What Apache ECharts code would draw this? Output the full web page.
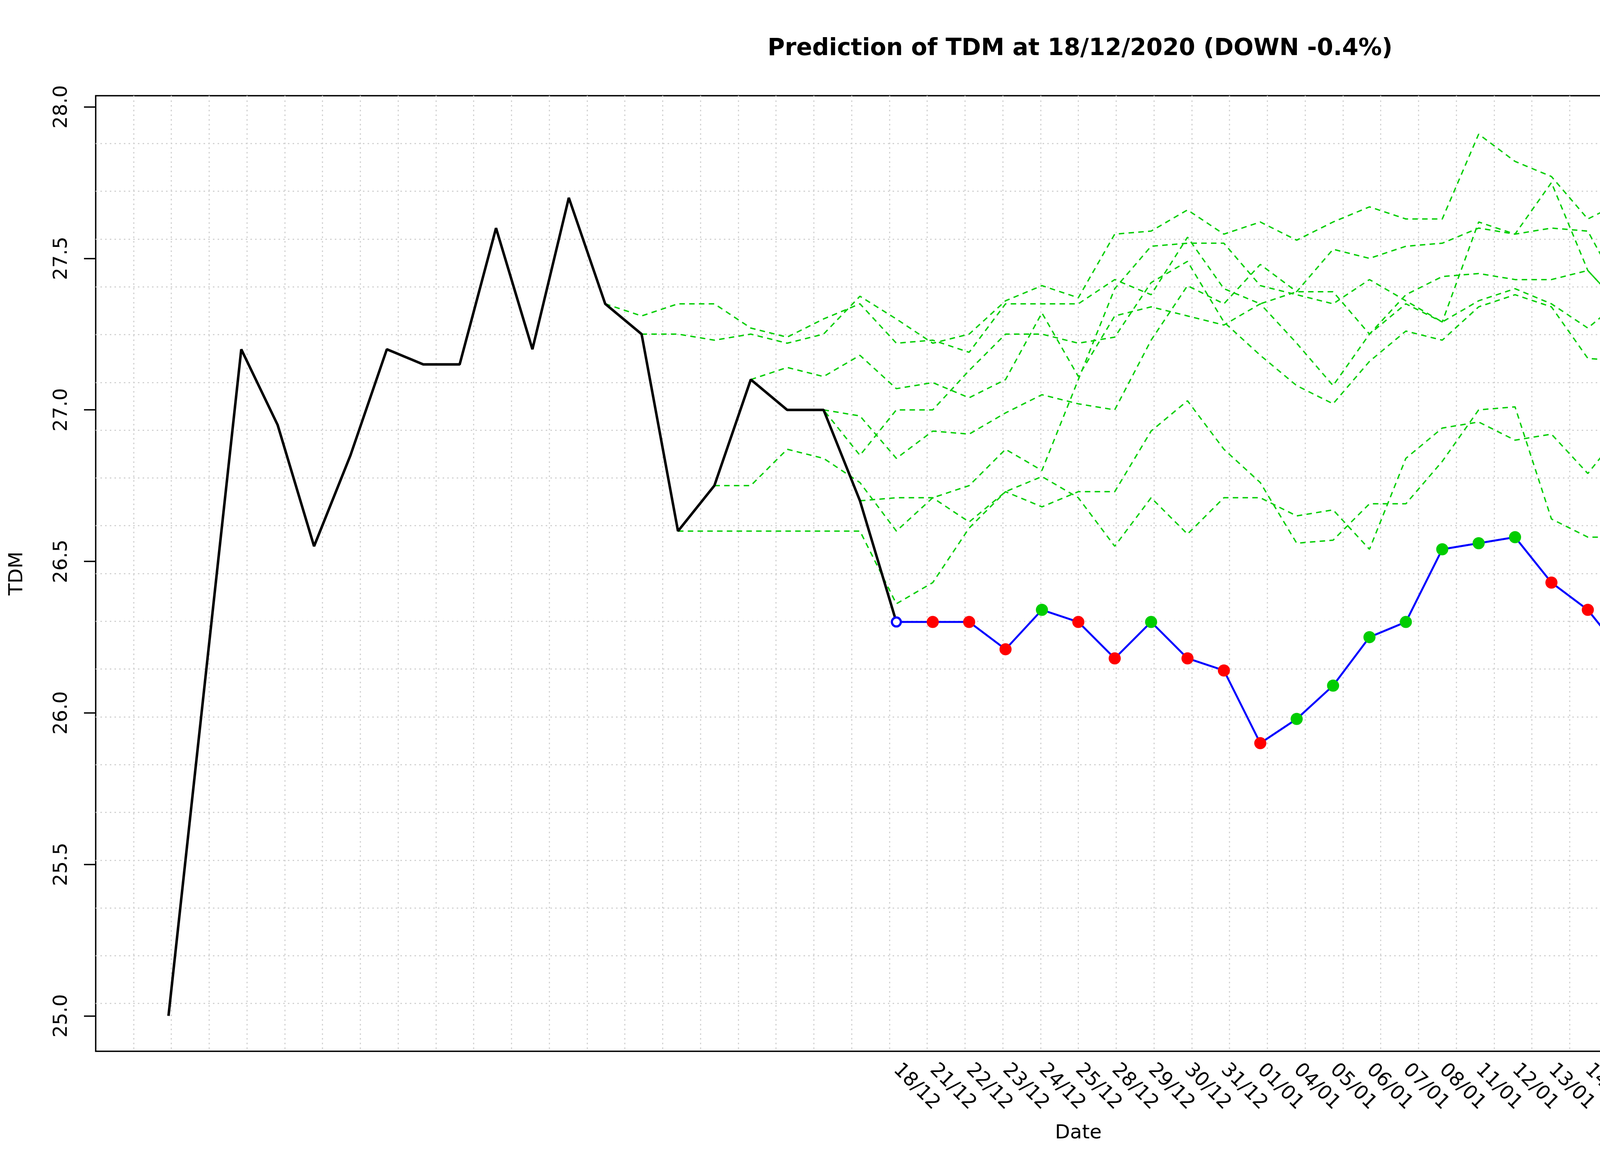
<!DOCTYPE html>
<html>
<head>
<meta charset="utf-8">
<title>Prediction of TDM</title>
<script src="https://cdn.jsdelivr.net/npm/echarts@6/dist/echarts.min.js"></script>
<style>
    html, body { margin: 0; padding: 0; background: #ffffff; }
    #chart { width: 5400px; height: 3000px; }
</style>
</head>
<body>
<div id="chart"></div>
<script>
// price history, index 0..20 (20 = 18/12)
var priceHistory = [25.0, 26.1, 27.2, 26.95, 26.55, 26.85, 27.2, 27.15, 27.15, 27.6, 27.2,
    27.7, 27.35, 27.25, 26.6, 26.75, 27.1, 27.0, 27.0, 26.7, 26.3];

// forecast, index 20..50
var forecast = [26.3, 26.3, 26.3, 26.21, 26.34, 26.3, 26.18, 26.3, 26.18, 26.14, 25.9,
    25.98, 26.09, 26.25, 26.3, 26.54, 26.56, 26.58, 26.43, 26.34, 26.19,
    26.14, 26.36, 25.9, 25.99, 25.62, 26.05, 26.03, 25.92, 25.69, 25.83];
var forecastStart = 20;

// date labels under the axis, from index 20
var dateLabels = ['18/12', '21/12', '22/12', '23/12', '24/12', '25/12', '28/12', '29/12',
    '30/12', '31/12', '01/01', '04/01', '05/01', '06/01', '07/01', '08/01',
    '11/01', '12/01', '13/01', '14/01', '15/01'];

// similar patterns (green dashed), each starts at an index of the history
var simStarts = [12, 13, 14, 15, 16, 17, 18, 19];
var sim12 = [27.35, 27.31, 27.35, 27.35, 27.27, 27.24, 27.30, 27.35, 27.22, 27.23, 27.19,
    27.35, 27.35, 27.35, 27.43, 27.38, 27.57, 27.40, 27.35, 27.39, 27.39,
    27.25, 27.35, 27.29, 27.62, 27.58, 27.75, 27.46, 27.33, 27.52, 27.40];
var sim13 = [27.25, 27.25, 27.23, 27.25, 27.22, 27.25, 27.375, 27.30, 27.22, 27.25, 27.36,
    27.41, 27.37, 27.58, 27.59, 27.66, 27.58, 27.62, 27.56, 27.62, 27.67,
    27.63, 27.63, 27.91, 27.82, 27.77, 27.63, 27.69, 27.59, 27.43, 27.59];
var sim14 = [26.6, 26.6, 26.6, 26.6, 26.6, 26.6, 26.36, 26.43, 26.61, 26.73, 26.68,
    26.73, 26.73, 26.93, 27.03, 26.87, 26.76, 26.56, 26.57, 26.69, 26.69,
    26.83, 27.0, 27.01, 26.64, 26.58, 26.58, 26.70, 27.04, 26.71, 26.80];
var sim15 = [26.75, 26.75, 26.87, 26.84, 26.76, 26.60, 26.71, 26.75, 26.87, 26.80, 27.10,
    27.40, 27.54, 27.55, 27.55, 27.41, 27.38, 27.35, 27.43, 27.36, 27.29,
    27.36, 27.40, 27.35, 27.27, 27.37, 27.62, 27.84, 27.92, 27.92, 27.92];
var sim16 = [27.1, 27.14, 27.11, 27.18, 27.07, 27.09, 27.04, 27.10, 27.32, 27.11, 27.31,
    27.34, 27.31, 27.28, 27.35, 27.22, 27.08, 27.25, 27.38, 27.44, 27.45,
    27.43, 27.43, 27.46, 27.33, 27.21, 27.15, 27.22, 27.11, 27.05, 27.36];
var sim17 = [27.0, 27.0, 26.85, 27.0, 27.0, 27.13, 27.25, 27.25, 27.22, 27.24, 27.42,
    27.49, 27.29, 27.18, 27.08, 27.02, 27.16, 27.26, 27.23, 27.34, 27.38,
    27.34, 27.17, 27.16, 27.21, 27.21, 27.27, 27.39, 27.35, 27.32, 27.27];
var sim18 = [27.0, 26.98, 26.84, 26.93, 26.92, 26.99, 27.05, 27.02, 27.0, 27.23, 27.41,
    27.35, 27.48, 27.39, 27.53, 27.50, 27.54, 27.55, 27.60, 27.58, 27.60,
    27.59, 27.37, 27.21, 27.21, 27.18, 27.0, 26.89, 26.89, 26.87, 26.89];
var sim19 = [26.7, 26.71, 26.71, 26.63, 26.73, 26.78, 26.71, 26.55, 26.71, 26.59, 26.71,
    26.71, 26.65, 26.67, 26.54, 26.84, 26.94, 26.96, 26.90, 26.92, 26.79,
    26.94, 26.69, 26.29, 26.22, 26.16, 26.04, 25.88, 25.78, 25.65, 25.56];
var simLines = [sim12, sim13, sim14, sim15, sim16, sim17, sim18, sim19];

var yTicks = [25.0, 25.5, 26.0, 26.5, 27.0, 27.5, 28.0];

var upColor = '#00cd00';
var downColor = '#ff0000';
var gridColor = '#d3d3d3';
var font = 'DejaVu Sans';

// x values 0..50 with 4% padding each side, like R does
var xMin = -2, xMax = 52;
var yLow = 25.0, yHigh = 27.92;
var yPad = (yHigh - yLow) * 0.04;

function toPoints(start, values) {
    var pts = [];
    for (var i = 0; i < values.length; i++) {
        pts.push([start + i, values[i]]);
    }
    return pts;
}

var series = [];

series.push({
    name: 'history',
    type: 'line',
    data: toPoints(0, priceHistory),
    showSymbol: false,
    lineStyle: { color: '#000000', width: 6.5 },
    z: 3
});

for (var s = 0; s < simLines.length; s++) {
    series.push({
        name: 'sim' + simStarts[s],
        type: 'line',
        data: toPoints(simStarts[s], simLines[s]),
        showSymbol: false,
        lineStyle: { color: upColor, width: 3.5, type: [14, 11] },
        z: 2
    });
}

// forecast points: green when it goes up, red otherwise
var forecastData = [];
for (var i = 1; i < forecast.length; i++) {
    var col = forecast[i] > forecast[i - 1] ? upColor : downColor;
    forecastData.push({
        value: [forecastStart + i, forecast[i]],
        itemStyle: { color: col, borderWidth: 0, opacity: 1 }
    });
}
series.push({
    name: 'forecast',
    type: 'line',
    data: toPoints(forecastStart, forecast),
    showSymbol: false,
    lineStyle: { color: '#0000ff', width: 5 },
    z: 4
});
series.push({
    name: 'forecast points',
    type: 'scatter',
    data: forecastData,
    symbol: 'circle',
    symbolSize: 31,
    itemStyle: { opacity: 1 },
    z: 5
});
// open circle on the last known value
series.push({
    name: 'today',
    type: 'scatter',
    data: [[forecastStart, forecast[0]]],
    symbol: 'circle',
    symbolSize: 23,
    itemStyle: { color: '#ffffff', borderColor: '#0000ff', borderWidth: 5.5, opacity: 1 },
    z: 5
});

var labelValues = [];
for (var k = 0; k < dateLabels.length; k++) labelValues.push(forecastStart + k);

var gridLine = {
    show: true,
    showMinLine: false,
    showMaxLine: false,
    lineStyle: { color: gridColor, width: 3, type: [4, 8] }
};

var option = {
    animation: false,
    backgroundColor: '#ffffff',
    title: {
        text: 'Prediction of TDM at 18/12/2020 (DOWN -0.4%)',
        left: 2760,
        top: 90,
        textAlign: 'center',
        textStyle: { fontFamily: font, fontSize: 60, fontWeight: 'bold', color: '#000' }
    },
    grid: {
        left: 245, right: 124, top: 245, bottom: 309,
        show: true,
        borderColor: '#000000',
        borderWidth: 3.5,
        backgroundColor: 'transparent'
    },
    xAxis: [
        {
            type: 'value',
            min: xMin,
            max: xMax,
            name: 'Date',
            nameLocation: 'middle',
            nameGap: 185,
            nameTextStyle: { fontFamily: font, fontSize: 50, color: '#000' },
            axisLine: { show: false, onZero: false },
            axisTick: { show: false },
            splitLine: { show: false },
            axisLabel: {
                customValues: labelValues,
                rotate: -45,
                margin: 40,
                fontFamily: font,
                fontSize: 50,
                color: '#000',
                formatter: function (v) {
                    return dateLabels[Math.round(v) - forecastStart] || '';
                }
            }
        },
        {
            // only the dotted grid, 52 cells wide
            type: 'value',
            position: 'top',
            min: 0,
            max: 52,
            interval: 1,
            axisLine: { show: false, onZero: false },
            axisTick: { show: false },
            axisLabel: { show: false },
            splitLine: gridLine
        }
    ],
    yAxis: [
        {
            type: 'value',
            min: yLow - yPad,
            max: yHigh + yPad,
            name: 'TDM',
            nameLocation: 'middle',
            nameGap: 176,
            nameRotate: 90,
            nameTextStyle: { fontFamily: font, fontSize: 50, color: '#000' },
            axisLine: { show: false, onZero: false },
            axisTick: {
                show: true,
                customValues: yTicks,
                length: 30,
                lineStyle: { color: '#000', width: 3.5 }
            },
            splitLine: { show: false },
            axisLabel: {
                customValues: yTicks,
                rotate: 90,
                margin: 62,
                fontFamily: font,
                fontSize: 50,
                color: '#000',
                formatter: function (v) { return v.toFixed(1); }
            }
        },
        {
            // only the dotted grid, 20 cells high
            type: 'value',
            position: 'right',
            min: 0,
            max: 20,
            interval: 1,
            axisLine: { show: false, onZero: false },
            axisTick: { show: false },
            axisLabel: { show: false },
            splitLine: gridLine
        }
    ],
    series: series
};

var myChart = echarts.init(document.getElementById('chart'));
myChart.setOption(option);
</script>
</body>
</html>
